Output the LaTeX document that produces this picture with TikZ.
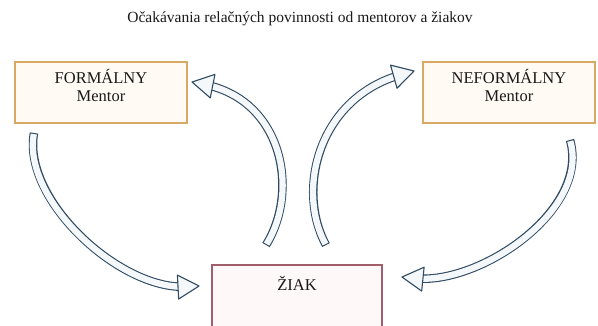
\documentclass[tikz,border=0pt]{standalone}
\usepackage{fontspec}
\setmainfont{Liberation Serif}
\usetikzlibrary{calc}
\definecolor{orangeb}{HTML}{D9A864}
\definecolor{creamf}{HTML}{FFFBF4}
\definecolor{roseb}{HTML}{A05E6A}
\definecolor{rosef}{HTML}{FFF8F8}
\definecolor{arrc}{HTML}{2F4A62}
\definecolor{arrf}{HTML}{F5F8FB}
\tikzset{
  mbox/.style={draw=orangeb, fill=creamf, line width=1.6pt, minimum width=172pt, minimum height=61pt, inner sep=0pt},
  zbox/.style={draw=roseb, fill=rosef, line width=1.4pt, minimum width=170pt, minimum height=70pt, inner sep=0pt},
  boxtext/.style={align=center, font=\fontsize{16.5}{17.5}\selectfont, text=black!90, inner sep=0pt},
  titletext/.style={font=\fontsize{15.5}{17}\selectfont, text=black!90, inner sep=0pt},
  blockband/.style={draw=arrc, line width=8.5pt, shorten >=13pt,
    postaction={draw=arrf, line width=6.3pt, shorten <=1.1pt, shorten >=13pt}},
  blockhead/.style={draw=arrc, fill=arrf, line width=1.1pt, line join=round},
}
\begin{document}
\begin{tikzpicture}[x=1pt, y=-1pt]
  \useasboundingbox (0,0) rectangle (598,325);
  \clip (0,0) rectangle (598,325);
  \fill[white] (0,0) rectangle (598,325);

  \node[titletext] (title) at (300,19) {Očakávania relačných povinnosti od mentorov a žiakov};

  \node[mbox] (formal) at (101,92.5) {};
  \node[boxtext] (formalt) at (101,85.5) {FORMÁLNY\\Mentor};

  \node[mbox] (neformal) at (509,92.5) {};
  \node[boxtext] (neformalt) at (509,85.5) {NEFORMÁLNY\\Mentor};

  \node[zbox] (ziak) at (297,300) {};
  \node[boxtext] (ziakt) at (297,283.5) {ŽIAK};

  % arrow end points and control points
  \coordinate (a1s) at (34,133);   \coordinate (c1a) at (22,200);  \coordinate (c1b) at (120,290); \coordinate (a1e) at (199,286);
  \coordinate (a2s) at (266,245);  \coordinate (c2a) at (300,190); \coordinate (c2b) at (282,100); \coordinate (a2e) at (192,82);
  \coordinate (a3s) at (326,245);  \coordinate (c3a) at (296,190); \coordinate (c3b) at (318,98);  \coordinate (a3e) at (414,71);
  \coordinate (a4s) at (570,140);  \coordinate (c4a) at (590,210); \coordinate (c4b) at (480,285); \coordinate (a4e) at (402,277);

  \draw[blockband] (a1s) .. controls (c1a) and (c1b) .. (a1e);
  \draw[blockband] (a2s) .. controls (c2a) and (c2b) .. (a2e);
  \draw[blockband] (a3s) .. controls (c3a) and (c3b) .. (a3e);
  \draw[blockband] (a4s) .. controls (c4a) and (c4b) .. (a4e);

  \foreach \i in {1,2,3,4}{
    \coordinate (h\i) at ($(a\i e)!21pt!(c\i b)$);
    \draw[blockhead] (a\i e) -- ($(h\i)!12pt!90:(a\i e)$) -- ($(h\i)!12pt!-90:(a\i e)$) -- cycle;
  }
\end{tikzpicture}
\end{document}
